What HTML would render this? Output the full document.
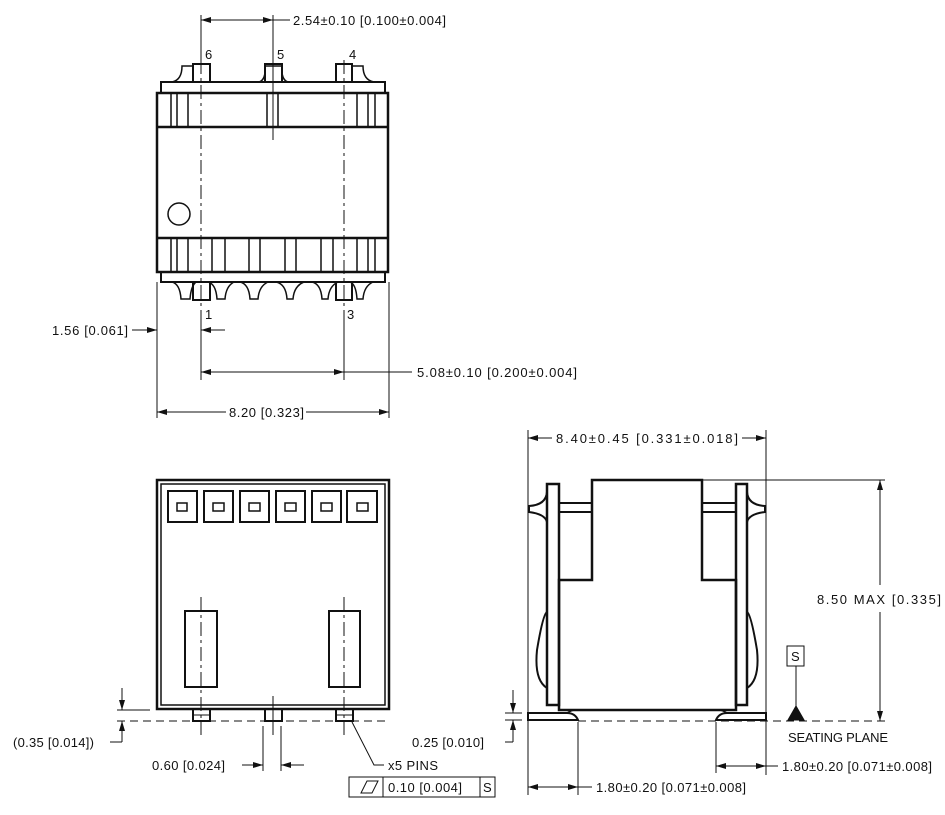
<!DOCTYPE html>
<html><head><meta charset="utf-8"><style>
html,body{margin:0;padding:0;background:#fff;}
svg{display:block;}
text{font-family:"Liberation Sans",sans-serif;font-size:13px;fill:#111;}
</style></head><body>
<svg width="945" height="815" viewBox="0 0 945 815" xmlns="http://www.w3.org/2000/svg">
<defs>
<marker id="a" viewBox="0 0 10 6" refX="10" refY="3" markerWidth="10" markerHeight="6" orient="auto-start-reverse" markerUnits="userSpaceOnUse"><path d="M0,0 L10,3 L0,6 Z" fill="#111"/></marker>
</defs>
<g fill="none" stroke="#111" stroke-width="1">
<!-- ===== TOP VIEW ===== -->
<path d="M172,82 Q182,80 182,66 L193,66" stroke-width="1.5"/>
<path d="M259,82 Q266,80 265,66 L282,66 Q281,80 288,82" stroke-width="1.5"/>
<path d="M352,66 L363,66 Q363,80 374,82" stroke-width="1.5"/>
<rect x="193" y="64" width="17" height="18" stroke-width="2"/>
<rect x="265" y="64" width="17" height="18" stroke-width="2"/>
<rect x="336" y="64" width="16" height="18" stroke-width="2"/>
<rect x="161" y="82" width="224" height="11" stroke-width="2"/>
<rect x="157" y="93" width="231" height="179" stroke-width="2.5"/>
<line x1="157" y1="127" x2="388" y2="127" stroke-width="2.5"/>
<line x1="157" y1="238" x2="388" y2="238" stroke-width="2.5"/>
<g stroke-width="1.5">
<path d="M171,93V127M177,93V127M188,93V127M267,93V127M278,93V127M357,93V127M368,93V127M375,93V127"/>
<path d="M171,238V272M177,238V272M188,238V272M212,238V272M225,238V272M249,238V272M260,238V272M285,238V272M296,238V272M321,238V272M333,238V272M357,238V272M368,238V272M375,238V272"/>
</g>
<rect x="161" y="272" width="224" height="10" stroke-width="2"/>
<g stroke-width="1.5">
<path d="M172,282 Q180,284 181,299 L190,299 Q191,286 196,282"/>
<path d="M208,282 Q216,284 217,299 L225,299 Q226,286 234,282"/>
<path d="M240,282 Q249,284 250,299 L258,299 Q259,286 268,282"/>
<path d="M276,282 Q286,284 287,299 L293,299 Q294,286 304,282"/>
<path d="M312,282 Q321,284 322,299 L328,299 Q329,286 338,282"/>
<path d="M350,282 Q356,284 357,299 L363,299 Q364,286 373,282"/>
</g>
<rect x="193" y="282" width="17" height="18" stroke-width="2"/>
<rect x="336" y="282" width="16" height="18" stroke-width="2"/>
<circle cx="179" cy="214" r="11" stroke-width="1.5"/>
<g stroke-dasharray="14,4,3,4">
<line x1="201" y1="60" x2="201" y2="310"/>
<line x1="344" y1="60" x2="344" y2="310"/>
</g>
<line x1="273" y1="55" x2="273" y2="140"/>
<line x1="201" y1="15" x2="201" y2="60"/>
<line x1="273" y1="15" x2="273" y2="60"/>
<line x1="201" y1="20" x2="273" y2="20" marker-start="url(#a)" marker-end="url(#a)"/>
<line x1="273" y1="20" x2="290" y2="20"/>
<line x1="201" y1="310" x2="201" y2="380"/>
<line x1="344" y1="310" x2="344" y2="380"/>
<line x1="157" y1="282" x2="157" y2="418"/>
<line x1="389" y1="282" x2="389" y2="418"/>
<line x1="132" y1="330" x2="157" y2="330" marker-end="url(#a)"/>
<line x1="225" y1="330" x2="201" y2="330" marker-end="url(#a)"/>
<line x1="201" y1="372" x2="344" y2="372" marker-start="url(#a)" marker-end="url(#a)"/>
<line x1="344" y1="372" x2="412" y2="372"/>
<line x1="157" y1="412" x2="226" y2="412" marker-start="url(#a)"/>
<line x1="306" y1="412" x2="389" y2="412" marker-end="url(#a)"/>

<!-- ===== BOTTOM VIEW ===== -->
<rect x="157" y="480" width="232" height="229" stroke-width="2.5"/>
<rect x="161" y="484" width="224" height="221" stroke-width="1.5"/>
<g stroke-width="2">
<rect x="168" y="491" width="29" height="31"/><rect x="204" y="491" width="29" height="31"/>
<rect x="240" y="491" width="29" height="31"/><rect x="276" y="491" width="29" height="31"/>
<rect x="312" y="491" width="29" height="31"/><rect x="347" y="491" width="30" height="31"/>
</g>
<g stroke-width="1.5">
<rect x="177" y="503" width="10" height="8"/><rect x="213" y="503" width="11" height="8"/>
<rect x="249" y="503" width="11" height="8"/><rect x="285" y="503" width="11" height="8"/>
<rect x="321" y="503" width="11" height="8"/><rect x="357" y="503" width="11" height="8"/>
</g>
<rect x="185" y="611" width="32" height="76" stroke-width="2"/>
<rect x="329" y="611" width="31" height="76" stroke-width="2"/>
<g stroke-width="2">
<rect x="193" y="709" width="17" height="12"/><rect x="265" y="709" width="17" height="12"/><rect x="336" y="709" width="17" height="12"/>
</g>
<line x1="193" y1="715" x2="210" y2="715"/><line x1="336" y1="715" x2="353" y2="715"/>
<g stroke-dasharray="14,4,3,4">
<line x1="201" y1="597" x2="201" y2="735"/>
<line x1="344" y1="597" x2="344" y2="735"/>
</g>
<line x1="273" y1="696" x2="273" y2="735"/>
<line x1="117" y1="710" x2="150" y2="710"/>
<line x1="117" y1="721" x2="389" y2="721" stroke-dasharray="8,5"/>
<line x1="122" y1="688" x2="122" y2="710" marker-end="url(#a)"/>
<line x1="122" y1="742" x2="122" y2="721" marker-end="url(#a)"/>
<line x1="110" y1="742" x2="122" y2="742"/>
<line x1="263" y1="726" x2="263" y2="771"/>
<line x1="281" y1="726" x2="281" y2="771"/>
<line x1="242" y1="765" x2="263" y2="765" marker-end="url(#a)"/>
<line x1="304" y1="765" x2="281" y2="765" marker-end="url(#a)"/>
<polyline points="384,765 374,765 352,722" />
<rect x="349" y="777" width="146" height="20"/>
<line x1="383" y1="777" x2="383" y2="797"/>
<line x1="480" y1="777" x2="480" y2="797"/>
<path d="M361,793 L367,781 L378,781 L372,793 Z"/>

<!-- ===== SIDE VIEW ===== -->
<line x1="528" y1="430" x2="528" y2="795"/>
<line x1="766" y1="430" x2="766" y2="775"/>
<line x1="528" y1="438" x2="552" y2="438" marker-start="url(#a)"/>
<line x1="742" y1="438" x2="766" y2="438" marker-end="url(#a)"/>
<path d="M592,480 H702 V580 H736 V710 H559 V580 H592 Z" stroke-width="2.5"/>
<rect x="547" y="484" width="12" height="221" stroke-width="2.5"/>
<rect x="736" y="484" width="11" height="221" stroke-width="2.5"/>
<path d="M559,503 H592 M559,512 H592 M702,503 H736 M702,512 H736" stroke-width="2"/>
<path d="M547,492 Q546,505 529,506 L529,512 Q545,514 547,522" stroke-width="2"/>
<path d="M747,492 Q748,505 765,506 L765,512 Q749,514 747,522" stroke-width="2"/>
<path d="M547,612 Q543,614 537,650 Q534,680 547,688" stroke-width="2"/>
<path d="M747,612 Q751,614 757,650 Q760,680 747,688" stroke-width="2"/>
<path d="M528,713 H567 Q575,713 578,720 H528 Z" stroke-width="2"/>
<path d="M766,713 H727 Q719,713 716,720 H766 Z" stroke-width="2"/>
<path d="M567,713 Q572,710 575,710 M727,713 Q722,710 719,710" stroke-width="1.5"/>
<line x1="578" y1="721" x2="885" y2="721" stroke-dasharray="8,5"/>
<line x1="702" y1="480" x2="885" y2="480"/>
<line x1="880" y1="585" x2="880" y2="480" marker-end="url(#a)"/>
<line x1="880" y1="612" x2="880" y2="721" marker-end="url(#a)"/>
<rect x="787" y="646" width="17" height="20"/>
<line x1="796" y1="666" x2="796" y2="708"/>
<path d="M788,720 L796,706 L804,720 Z" fill="#111"/>
<line x1="505" y1="713" x2="522" y2="713"/>
<line x1="505" y1="720" x2="522" y2="720"/>
<line x1="513" y1="690" x2="513" y2="713" marker-end="url(#a)"/>
<line x1="513" y1="742" x2="513" y2="720" marker-end="url(#a)"/>
<line x1="505" y1="742" x2="513" y2="742"/>
<line x1="716" y1="722" x2="716" y2="773"/>
<line x1="578" y1="722" x2="578" y2="795"/>
<line x1="716" y1="766" x2="766" y2="766" marker-start="url(#a)" marker-end="url(#a)"/>
<line x1="766" y1="766" x2="778" y2="766"/>
<line x1="528" y1="787" x2="578" y2="787" marker-start="url(#a)" marker-end="url(#a)"/>
<line x1="578" y1="787" x2="592" y2="787"/>
</g>
<text x="293" y="25" textLength="153">2.54±0.10 [0.100±0.004]</text>
<text x="205" y="59">6</text><text x="277" y="59">5</text><text x="349" y="59">4</text>
<text x="205" y="319">1</text><text x="347" y="319">3</text>
<text x="52" y="335" textLength="76">1.56 [0.061]</text>
<text x="417" y="377" textLength="160">5.08±0.10 [0.200±0.004]</text>
<text x="229" y="417" textLength="75">8.20 [0.323]</text>
<text x="13" y="747" textLength="81">(0.35 [0.014])</text>
<text x="152" y="770" textLength="73">0.60 [0.024]</text>
<text x="412" y="747" textLength="72">0.25 [0.010]</text>
<text x="388" y="770" textLength="50">x5 PINS</text>
<text x="388" y="792" textLength="74">0.10 [0.004]</text>
<text x="483" y="792">S</text>
<text x="556" y="443" textLength="182">8.40±0.45 [0.331±0.018]</text>
<text x="817" y="604" textLength="124">8.50 MAX  [0.335]</text>
<text x="791" y="661">S</text>
<text x="788" y="742" textLength="100">SEATING PLANE</text>
<text x="782" y="771" textLength="150">1.80±0.20 [0.071±0.008]</text>
<text x="596" y="792" textLength="150">1.80±0.20 [0.071±0.008]</text>
</svg>
</body></html>
